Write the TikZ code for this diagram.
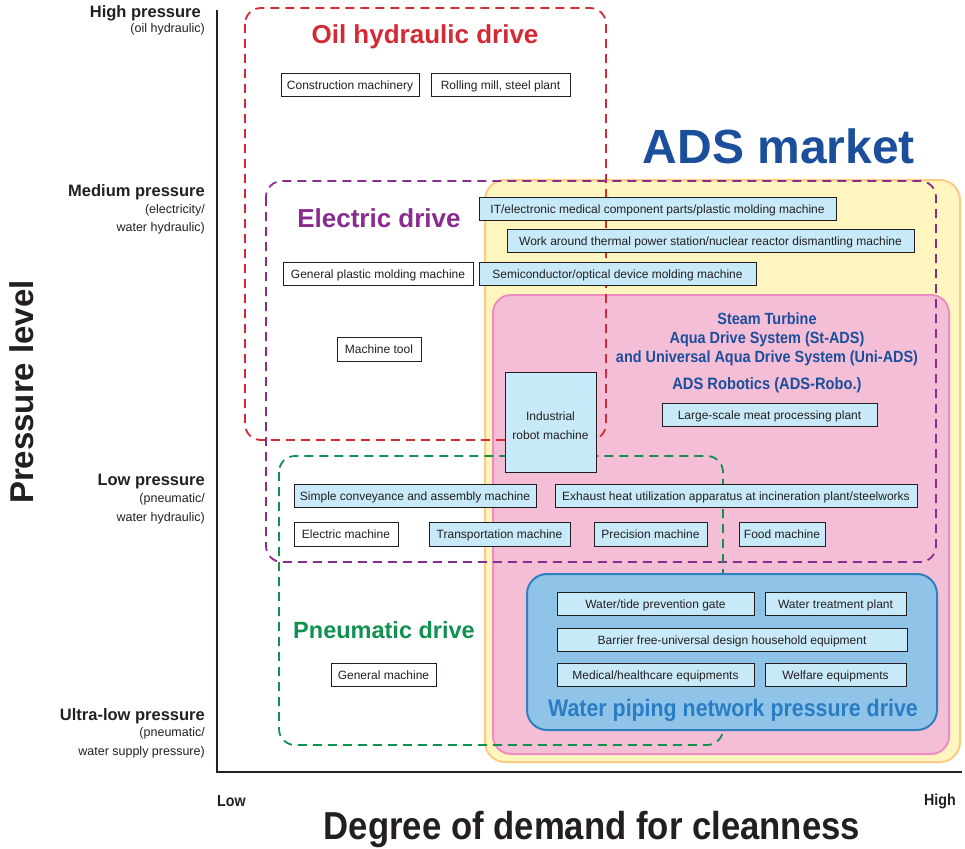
\documentclass[tikz,border=0pt]{standalone}
\usepackage{fontspec}
\setmainfont{Liberation Sans}
\newfontfamily\cond[FakeStretch=0.89]{Liberation Sans}
\definecolor{oilred}{HTML}{D42A35}
\definecolor{elpurple}{HTML}{8A2C8F}
\definecolor{pngreen}{HTML}{119150}
\definecolor{yfill}{HTML}{FFF6BF}
\definecolor{yline}{HTML}{FBCB83}
\definecolor{pfill}{HTML}{F5BED7}
\definecolor{pline}{HTML}{EE8DBF}
\definecolor{bfill}{HTML}{8FC4E8}
\definecolor{bline}{HTML}{2F7FC1}
\definecolor{cellblue}{HTML}{C8E9F8}
\definecolor{adsblue}{HTML}{1B4E9B}
\definecolor{wpblue}{HTML}{2A7CC4}
\definecolor{ink}{HTML}{231F20}
\newcommand\itembox[7]{\node[#1, minimum width={(#5-#4)*1pt}, minimum height={(#7-#6)*1pt}] (#2) at ({(#4+#5)/2},{(#6+#7)/2}) {#3};}
\begin{document}
\begin{tikzpicture}[x=1pt,y=-1pt,
  itemcore/.style={draw=ink, line width=0.9pt, fill=white, inner sep=0pt, text=ink, font=\fontsize{12}{19}\selectfont},
  itemw/.style={itemcore, text height=11.4pt, text depth=2pt},
  itemb/.style={itemw, fill=cellblue},
  dashbox/.style={line width=1.8pt, dash pattern=on 9pt off 6pt, rounded corners=16pt},
  ylab/.style={anchor=east, text=ink, inner sep=0pt, font=\bfseries\fontsize{16.5}{18}\selectfont},
  ysub/.style={anchor=east, text=ink, inner sep=0pt, font=\fontsize{12.5}{14}\selectfont},
  head/.style={inner sep=0pt, font=\bfseries\fontsize{26}{28}\selectfont}]
\useasboundingbox (0,0) rectangle (965,848);
% market areas
\draw[fill=yfill, draw=yline, line width=2pt, rounded corners=20pt] (485,180) rectangle (960,762);
\draw[fill=pfill, draw=pline, line width=2pt, rounded corners=18pt] (493,295) rectangle (949,754);
% dashed drive regions
\draw[dashbox, draw=oilred] (245,8) rectangle (606,440);
\draw[dashbox, draw=elpurple] (266,181) rectangle (936,562);
\draw[dashbox, draw=pngreen] (279,456) rectangle (723,745);
% water piping box
\draw[fill=bfill, draw=bline, line width=2pt, rounded corners=20pt] (527,574) rectangle (937,730);
% axes
\draw[ink, line width=2.4pt] (217,10) -- (217,772) -- (962,772);
% axis labels
\node[ylab] (hp) at (201,13) {High pressure};
\node[ysub] (hps) at (205,29) {(oil hydraulic)};
\node[ylab] (mp) at (205,192) {Medium pressure};
\node[ysub] (mps1) at (205,210) {(electricity/};
\node[ysub] (mps2) at (205,228) {water hydraulic)};
\node[ylab] (lp) at (205,482) {Low pressure};
\node[ysub] (lps1) at (205,499) {(pneumatic/};
\node[ysub] (lps2) at (205,518) {water hydraulic)};
\node[ylab] (ulp) at (205,716) {Ultra-low pressure};
\node[ysub] (ulps1) at (205,733) {(pneumatic/};
\node[ysub] (ulps2) at (205,752) {water supply pressure)};
\node[rotate=90, inner sep=0pt, text=ink, font=\bfseries\fontsize{33}{36}\selectfont] (pl) at (22,392) {Pressure level};
\node[anchor=west, inner sep=0pt, text=ink, font=\cond\bfseries\fontsize{16}{18}\selectfont] (low) at (217,801) {Low};
\node[anchor=east, inner sep=0pt, text=ink, font=\cond\bfseries\fontsize{16}{18}\selectfont] (high) at (956,801) {High};
\node[inner sep=0pt, text=ink, font=\cond\bfseries\fontsize{39}{42}\selectfont] (dd) at (592,829) {Degree of demand for cleanness};
% headings
\node[head, text=oilred] (oil) at (425,37) {Oil hydraulic drive};
\node[head, text=elpurple] (el) at (379,218) {Electric drive};
\node[head, text=pngreen, font=\bfseries\fontsize{23.5}{28}\selectfont] (pn) at (384,630) {Pneumatic drive};
\node[inner sep=0pt, text=adsblue, font=\bfseries\fontsize{48}{52}\selectfont] (ads) at (779,146) {ADS market};
\node[inner sep=0pt, text=adsblue, align=center, font=\cond\bfseries\fontsize{16.2}{19}\selectfont] (st) at (767,339) {Steam Turbine\\Aqua Drive System (St-ADS)\\and Universal Aqua Drive System (Uni-ADS)};
\node[inner sep=0pt, text=adsblue, font=\cond\bfseries\fontsize{16.5}{19}\selectfont] (robo) at (767,385) {ADS Robotics (ADS-Robo.)};
\node[inner sep=0pt, text=wpblue, font=\cond\bfseries\fontsize{24}{26}\selectfont] (wp) at (733,710) {Water piping network pressure drive};
% items
\itembox{itemw}{cm}{Construction machinery}{281}{419}{73}{96}
\itembox{itemw}{rm}{Rolling mill, steel plant}{431}{570}{73}{96}
\itembox{itemb}{it}{IT/electronic medical component parts/plastic molding machine}{479}{836}{197}{220}
\itembox{itemb}{wa}{Work around thermal power station/nuclear reactor dismantling machine}{507}{914}{229}{252}
\itembox{itemw}{gp}{General plastic molding machine}{283}{473}{262}{285}
\itembox{itemb}{sc}{Semiconductor/optical device molding machine}{479}{756}{262}{285}
\itembox{itemw}{mt}{Machine tool}{337}{421}{337}{361}
\itembox{itemb}{lm}{Large-scale meat processing plant}{662}{877}{403}{426}
\itembox{itemb}{ir}{}{505}{596}{372}{472}
\node[inner sep=0pt, align=center, text=ink, font=\fontsize{12}{19}\selectfont] (irt) at (550.5,425.5) {Industrial\\robot machine};
\itembox{itemb}{sca}{Simple conveyance and assembly machine}{294}{536}{484}{507}
\itembox{itemb}{eh}{Exhaust heat utilization apparatus at incineration plant/steelworks}{555}{917}{484}{507}
\itembox{itemw}{em}{Electric machine}{294}{398}{522}{546}
\itembox{itemb}{tm}{Transportation machine}{429}{570}{522}{546}
\itembox{itemb}{pm}{Precision machine}{594}{707}{522}{546}
\itembox{itemb}{fm}{Food machine}{739}{825}{522}{546}
\itembox{itemw}{gm}{General machine}{331}{436}{663}{686}
\itembox{itemb}{wt}{Water/tide prevention gate}{557}{754}{592}{615}
\itembox{itemb}{wtp}{Water treatment plant}{765}{906}{592}{615}
\itembox{itemb}{bf}{Barrier free-universal design household equipment}{557}{907}{628}{651}
\itembox{itemb}{mh}{Medical/healthcare equipments}{557}{754}{663}{686}
\itembox{itemb}{we}{Welfare equipments}{765}{906}{663}{686}
\end{tikzpicture}
\end{document}
